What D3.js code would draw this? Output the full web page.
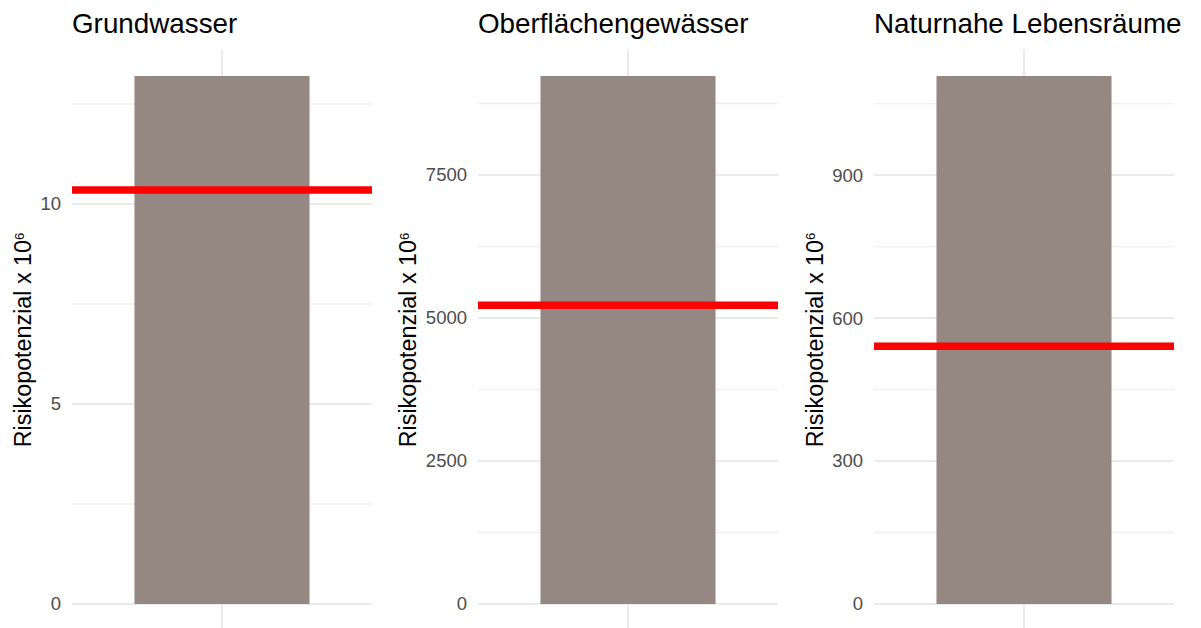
<!DOCTYPE html>
<html>
<head>
<meta charset="utf-8">
<script src="https://cdn.jsdelivr.net/npm/d3@7"></script>
<style>
  body { margin: 0; background: #fff; }
  svg { display: block; font-family: "Liberation Sans", Arial, sans-serif; }
</style>
</head>
<body>
<svg id="chart" width="1201" height="628"></svg>
<script>
// panel data
const panelTitles = ["Grundwasser", "Oberflächengewässer", "Naturnahe Lebensräume"];
const categories = ["Risiko"];
const barValues = [13.2, 9231, 1108];
const refValues = [10.35, 5222, 541];
const majorTicks = [[0, 5, 10], [0, 2500, 5000, 7500], [0, 300, 600, 900]];
const minorTicks = [[2.5, 7.5, 12.5], [1250, 3750, 6250, 8750], [150, 450, 750, 1050]];
const yLabel = "Risikopotenzial x 10";
const yLabelSup = "6";

const width = 1201;
const height = 628;
const panelLeft = [72, 478, 874];
const panelWidth = 300;
const panelTop = 49.6;
const panelBottom = 630.4;

const svg = d3.select("#chart");

panelTitles.forEach((title, i) => {
    const g = svg.append("g").attr("transform", `translate(${panelLeft[i]},0)`);

    const x = d3.scaleBand()
        .domain(categories)
        .range([0, panelWidth])
        .paddingInner(0)
        .paddingOuter(0.357);

    const maxVal = barValues[i];
    const y = d3.scaleLinear()
        .domain([-0.05 * maxVal, 1.05 * maxVal])
        .range([panelBottom, panelTop]);

    // minor grid
    g.selectAll(".minor")
        .data(minorTicks[i])
        .join("line")
        .attr("x1", 0)
        .attr("x2", panelWidth)
        .attr("y1", d => y(d))
        .attr("y2", d => y(d))
        .attr("stroke", "#f0f0f0")
        .attr("stroke-width", 1.3);

    // major grid
    g.selectAll(".major")
        .data(majorTicks[i])
        .join("line")
        .attr("x1", 0)
        .attr("x2", panelWidth)
        .attr("y1", d => y(d))
        .attr("y2", d => y(d))
        .attr("stroke", "#ebebeb")
        .attr("stroke-width", 2);

    // vertical grid at category
    g.selectAll(".vgrid")
        .data(categories)
        .join("line")
        .attr("x1", d => x(d) + x.bandwidth() / 2)
        .attr("x2", d => x(d) + x.bandwidth() / 2)
        .attr("y1", panelTop)
        .attr("y2", panelBottom)
        .attr("stroke", "#ebebeb")
        .attr("stroke-width", 2);

    // bar
    g.selectAll(".bar")
        .data([barValues[i]])
        .join("rect")
        .attr("x", x(categories[0]))
        .attr("width", x.bandwidth())
        .attr("y", d => y(d))
        .attr("height", d => y(0) - y(d))
        .attr("fill", "#958883");

    // reference line
    g.append("line")
        .attr("x1", 0)
        .attr("x2", panelWidth)
        .attr("y1", y(refValues[i]))
        .attr("y2", y(refValues[i]))
        .attr("stroke", "#ff0000")
        .attr("stroke-width", 7.5);

    // y axis labels
    const axis = g.append("g")
        .call(d3.axisLeft(y).tickValues(majorTicks[i]).tickSize(0).tickPadding(11).tickFormat(d3.format("d")));
    axis.select(".domain").remove();
    axis.selectAll("text")
        .attr("fill", "#4d4d4d")
        .style("font-size", "18.5px")
        .style("font-family", "'Liberation Sans', Arial, sans-serif");

    let labelW = 0;
    axis.selectAll("text").each(function () {
        labelW = Math.max(labelW, this.getBBox().width);
    });

    // y axis title
    const yt = g.append("text")
        .attr("transform", `translate(${-(labelW + 11 + 9.5)},${(panelTop + panelBottom) / 2}) rotate(-90)`)
        .attr("text-anchor", "middle")
        .attr("fill", "#000")
        .style("font-size", "23.3px");
    yt.append("tspan").text(yLabel);
    yt.append("tspan").text(yLabelSup)
        .attr("dy", "-0.55em")
        .style("font-size", "13px");

    // panel title
    g.append("text")
        .attr("x", 0)
        .attr("y", 33)
        .attr("fill", "#000")
        .style("font-size", "27.8px")
        .text(title);
});
</script>
</body>
</html>
